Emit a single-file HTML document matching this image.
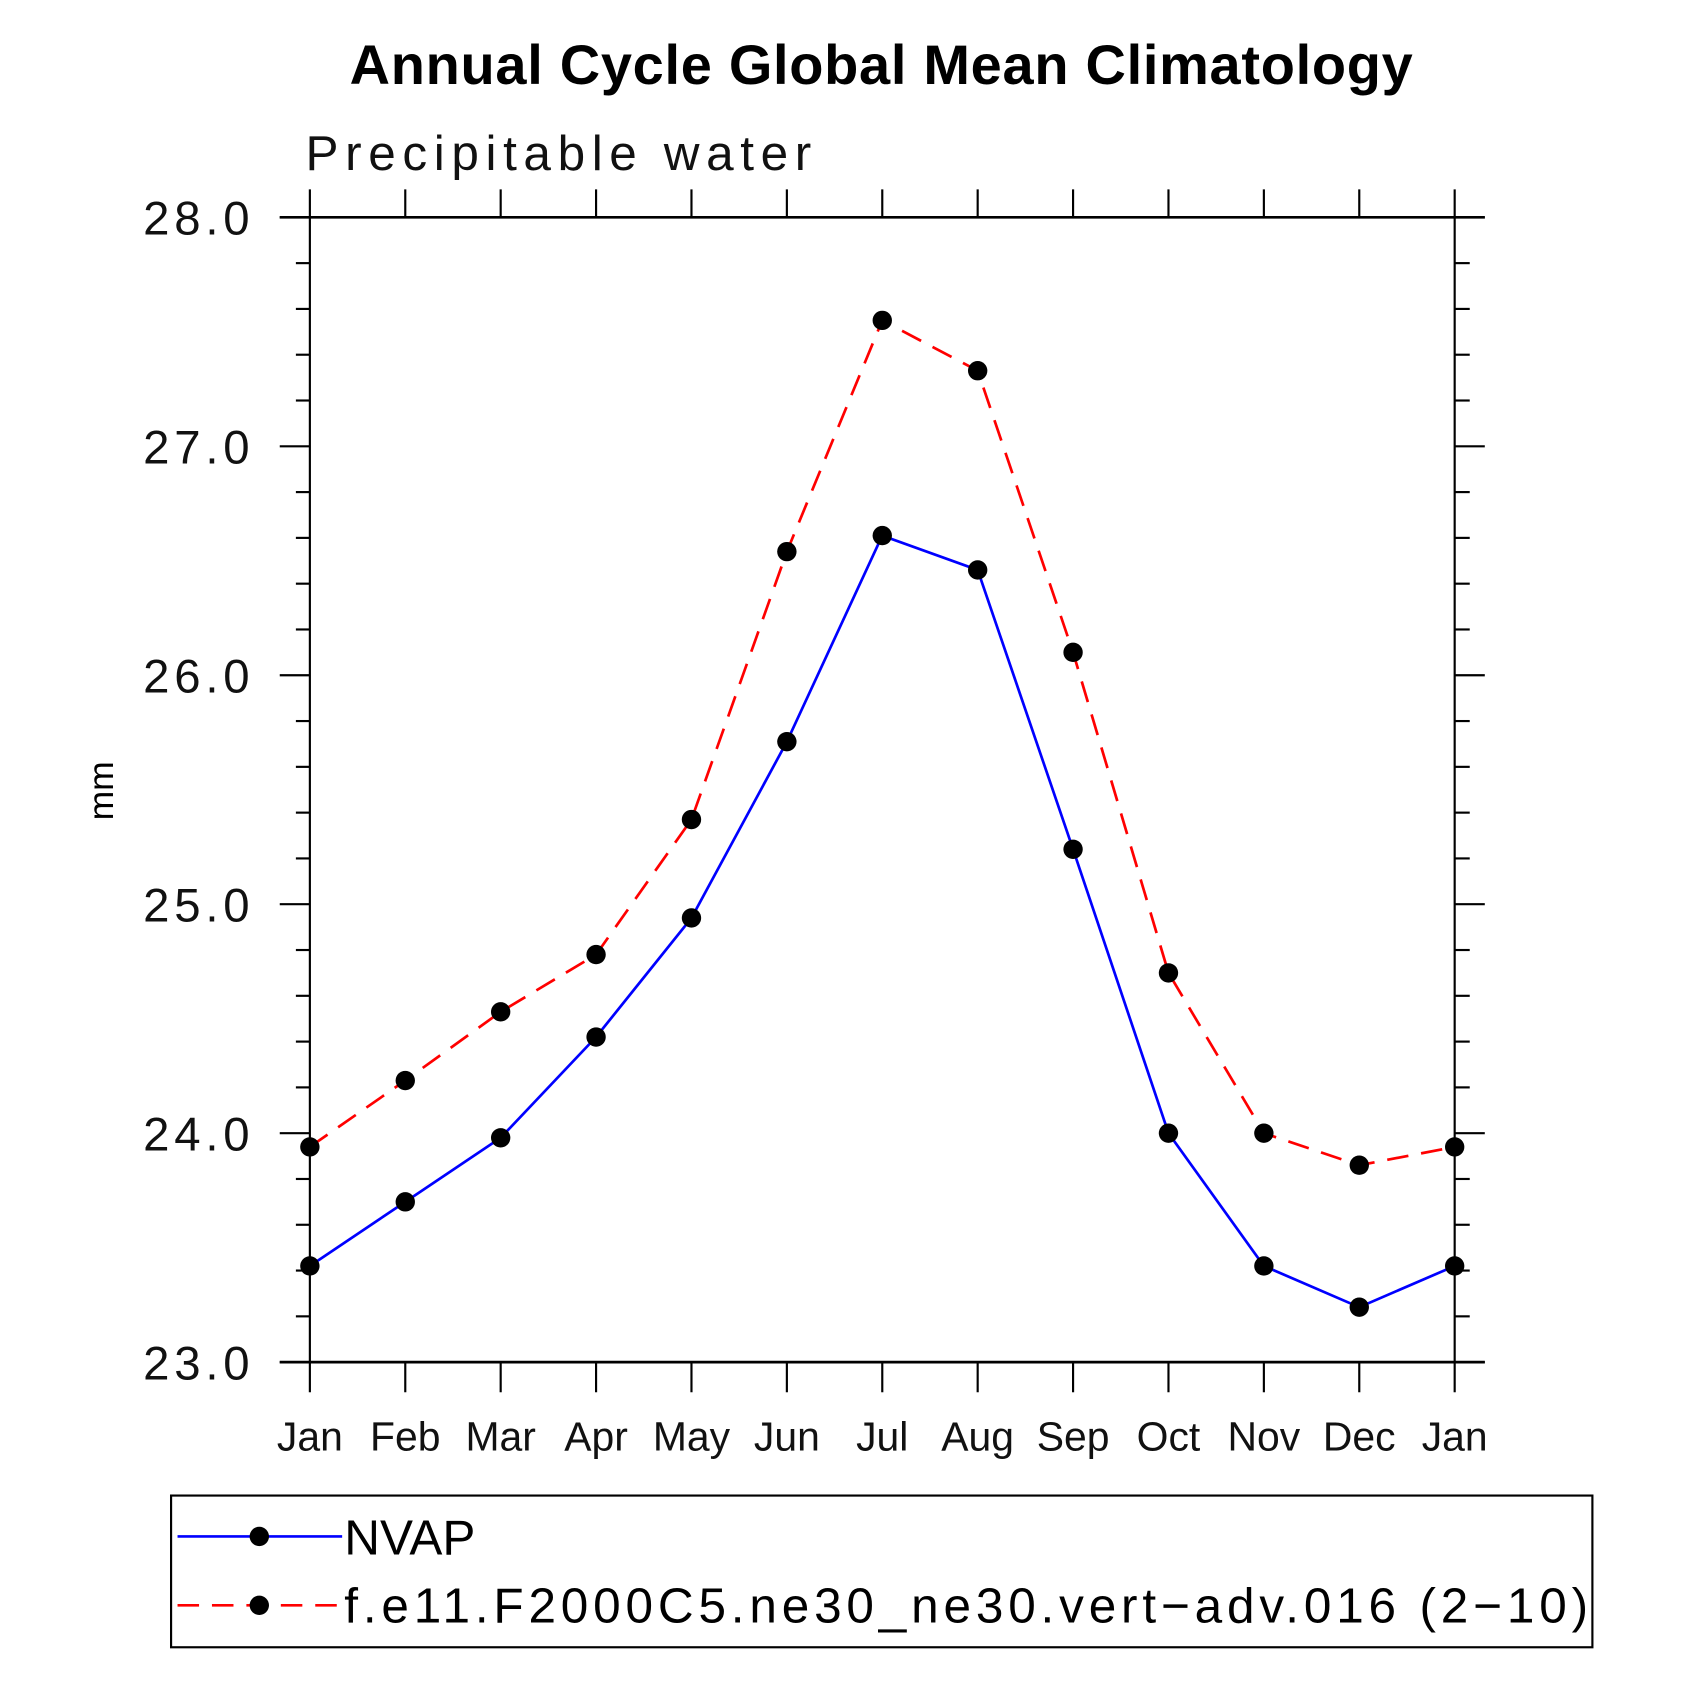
<!DOCTYPE html>
<html><head><meta charset="utf-8"><style>html,body{margin:0;padding:0;background:#fff}svg{display:block}</style></head>
<body>
<svg id="chart" width="1686" height="1686" viewBox="0 0 1567 1567" xmlns="http://www.w3.org/2000/svg" font-family="Liberation Sans, sans-serif">
<text x="819" y="78" text-anchor="middle" font-size="52" font-weight="bold" textLength="988">Annual Cycle Global Mean Climatology</text>
<text x="284" y="158" font-size="46" textLength="470" fill="#111">Precipitable water</text>
<text transform="translate(105,735) rotate(-90)" text-anchor="middle" font-size="33">mm</text>
<g id="axes"></g>
<g id="series"></g>
<g>
<rect x="159" y="1390" width="1321" height="141" fill="none" stroke="#000" stroke-width="2"/>
<line x1="165" y1="1428" x2="318" y2="1428" stroke="#00f" stroke-width="2.5"/>
<circle cx="241" cy="1428" r="9"/>
<text x="320" y="1445" font-size="46">NVAP</text>
<line x1="165" y1="1492" x2="318" y2="1492" stroke="#f00" stroke-width="2.5" stroke-dasharray="20,12"/>
<circle cx="241" cy="1492" r="9"/>
<text x="320" y="1508" font-size="46" textLength="1156">f.e11.F2000C5.ne30_ne30.vert−adv.016 (2−10)</text>
</g>
</svg>
<script>
const months = ["Jan","Feb","Mar","Apr","May","Jun","Jul","Aug","Sep","Oct","Nov","Dec","Jan"];
const nvap = [23.42,23.70,23.98,24.42,24.94,25.71,26.61,26.46,25.24,24.00,23.42,23.24,23.42];
const model = [23.94,24.23,24.53,24.78,25.37,26.54,27.55,27.33,26.10,24.70,24.00,23.86,23.94];
const yTicks = [23,24,25,26,27,28];
const yTickLabels = ["23.0","24.0","25.0","26.0","27.0","28.0"];
const yMin = 23, yMax = 28;
const L=288,R=1352,T=202,B=1266;
const NS="http://www.w3.org/2000/svg";
function X(i){return L+(R-L)*i/(months.length-1);}
function Y(v){return B-(v-yMin)/(yMax-yMin)*(B-T);}
function mk(tag,attrs,parent){const e=document.createElementNS(NS,tag);for(const k in attrs)e.setAttribute(k,attrs[k]);parent.appendChild(e);return e;}
const ax=document.getElementById('axes');
let e=mk('rect',{x:L,y:T,width:R-L,height:B-T,fill:'none',stroke:'#000','stroke-width':2},ax);


e=mk('line',{x1:260,y1:T,x2:1380,y2:T,stroke:'#000','stroke-width':2.5},ax);


e=mk('line',{x1:260,y1:B,x2:1380,y2:B,stroke:'#000','stroke-width':2.5},ax);


months.forEach((m,i)=>{
  const x=X(i);
  let t=mk('line',{x1:x,y1:B,x2:x,y2:B+28,stroke:'#000','stroke-width':2},ax);
  
  
  t=mk('line',{x1:x,y1:T-26,x2:x,y2:T,stroke:'#000','stroke-width':2},ax);
  
  
  const lb=mk('text',{x:x,y:1348,'text-anchor':'middle','font-size':38,fill:'#111'},ax);
  lb.textContent=m;
  
  
});
for(let v=yMin;v<=yMax+1e-9;v+=0.2){
  const y=Y(v);const major=Math.abs(v-Math.round(v))<1e-6;
  let t=mk('line',{x1:major?260:275,y1:y,x2:L,y2:y,stroke:'#000','stroke-width':2},ax);
  
  
  t=mk('line',{x1:R,y1:y,x2:major?1380:1366,y2:y,stroke:'#000','stroke-width':2},ax);
  
  
}
yTicks.forEach((v,i)=>{
  const lb=mk('text',{x:133,y:Y(v)+16,'font-size':44,fill:'#111',textLength:99},ax);
  lb.textContent=yTickLabels[i];
  
  
});
const sg=document.getElementById('series');
function series(vals,color,dash,name){
  const pts=vals.map((v,i)=>X(i)+','+Y(v)).join(' ');
  const attrs={points:pts,fill:'none',stroke:color,'stroke-width':2.5};
  if(dash)attrs['stroke-dasharray']=dash;
  const pl=mk('polyline',attrs,sg);
  
  
  vals.forEach((v,i)=>{
    const c=mk('circle',{cx:X(i),cy:Y(v),r:9,fill:'#000'},sg);
    
    
  });
}
series(model,'#f00','20,12','model');
series(nvap,'#00f',null,'nvap');
</script>
</body></html>
